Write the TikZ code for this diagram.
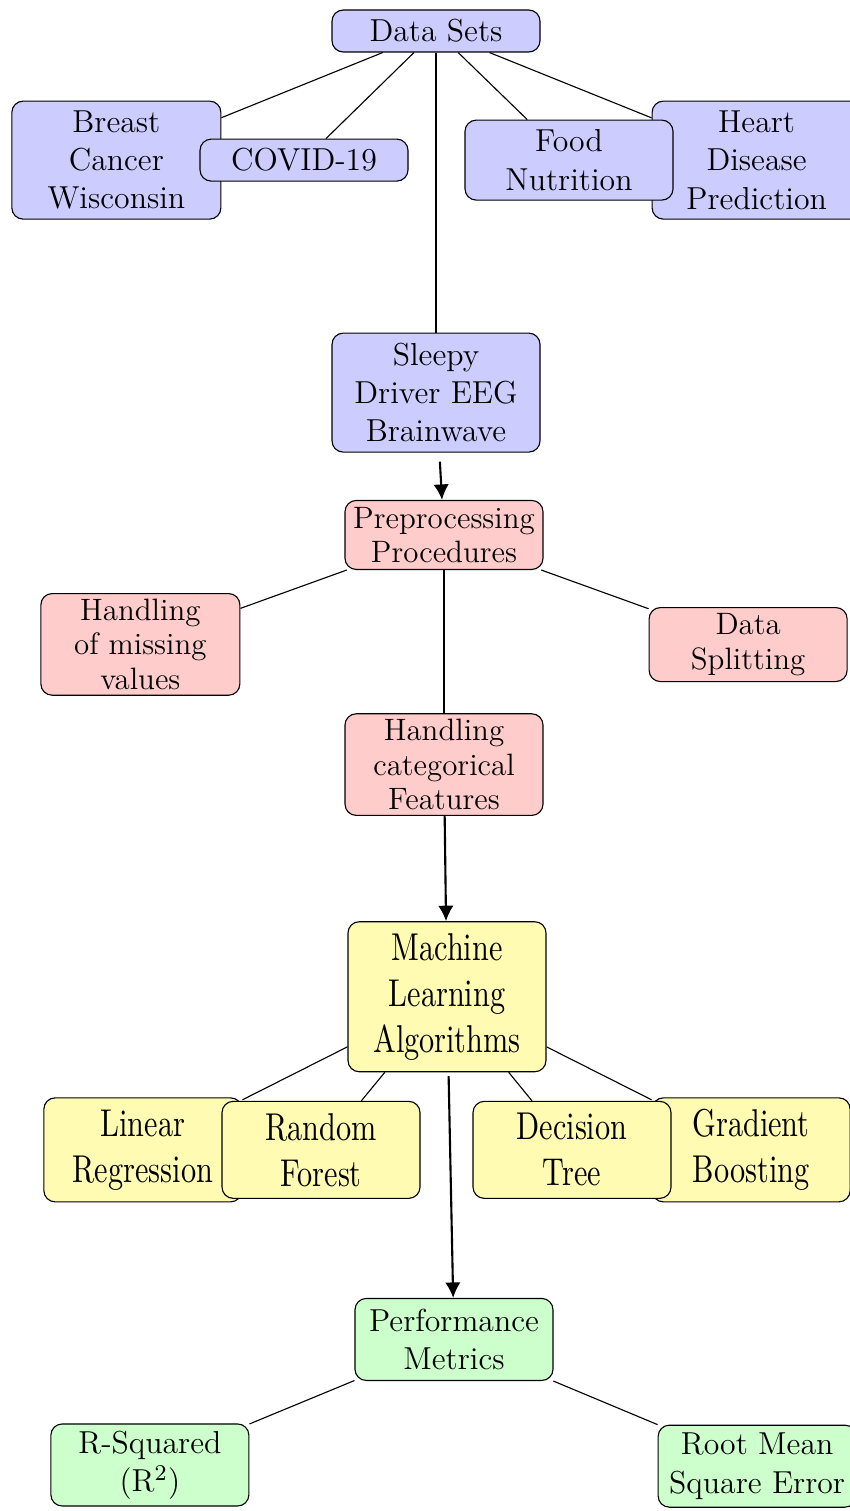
\documentclass[tikz,border=0pt]{standalone}
\usepackage{fontspec}
\usetikzlibrary{arrows.meta,positioning}
\newfontfamily\mlfont{lmroman10-regular.otf}[FakeStretch=0.78]

\begin{document}
\begin{tikzpicture}[
  box/.style={draw, rounded corners=4pt, align=center, inner sep=2pt,
              minimum width=2.475cm},
  ds/.style={box, fill=blue!20, minimum width=2.6cm,
             font=\fontsize{11.3}{13.6}\selectfont},
  pp/.style={box, fill=red!20, font=\fontsize{11}{12.2}\selectfont},
  ml/.style={box, fill=yellow!30, font=\mlfont\fontsize{13.8}{16.4}\selectfont},
  pm/.style={box, fill=green!20, font=\fontsize{11.3}{13.6}\selectfont},
  ln/.style={thin},
  ar/.style={-{Latex[length=5.5pt,width=5.5pt]}, line width=0.75pt}
]
  \useasboundingbox (0,0) rectangle (10.6125,-18.8875);

  % data sets
  \node[ds, minimum height=0.525cm] (data) at (5.45,-0.3875) {Data Sets};
  \node[ds, minimum width=2.6125cm, minimum height=1.475cm,
        below left=0.6cm and 1.375cm of data] (breast)
    {Breast\\Cancer\\Wisconsin};
  \node[ds, minimum height=0.525cm, right=-0.275cm of breast] (covid) {COVID-19};
  \node[ds, minimum width=2.6125cm, minimum height=1.475cm,
        below right=0.6cm and 1.3875cm of data] (heart)
    {Heart\\Disease\\Prediction};
  \node[ds, minimum height=1cm, left=-0.275cm of heart] (food) {Food\\Nutrition};
  \node[ds, minimum height=1.4875cm, below=3.5cm of data] (sleepy)
    {Sleepy\\Driver EEG\\Brainwave};

  % preprocessing
  \node[pp, minimum height=0.8625cm, below=0.59cm of sleepy, xshift=0.1cm] (pre)
    {Preprocessing\\Procedures};
  \node[pp, minimum width=2.4875cm, minimum height=1.2625cm,
        below left=0.2875cm and 1.3cm of pre] (miss)
    {Handling\\of missing\\values};
  \node[pp, minimum height=0.925cm, below right=0.4625cm and 1.3125cm of pre] (split)
    {Data\\Splitting};
  \node[pp, minimum height=1.2625cm, below=1.79cm of pre] (cat)
    {Handling\\categorical\\Features};

  % algorithms
  \node[ml, minimum height=1.875cm, below=1.315cm of cat, xshift=0.0375cm] (algo)
    {Machine\\Learning\\Algorithms};
  \node[ml, minimum height=1.3cm, below left=0.3125cm and 1.3125cm of algo] (linear)
    {Linear\\Regression};
  \node[ml, minimum height=1.2125cm, right=-0.2625cm of linear] (forest)
    {Random\\Forest};
  \node[ml, minimum height=1.3cm, below right=0.3125cm and 1.3125cm of algo] (boost)
    {Gradient\\Boosting};
  \node[ml, minimum height=1.2125cm, left=-0.25cm of boost] (tree)
    {Decision\\Tree};

  % metrics
  \node[pm, minimum height=1.025cm, below=2.82cm of algo, xshift=0.0875cm] (perf)
    {Performance\\Metrics};
  \node[pm, minimum height=1.025cm, below left=0.53cm and 1.3125cm of perf] (rsq)
    {R-Squared\\(R$^2$)};
  \node[pm, minimum height=1.025cm, below right=0.545cm and 1.3cm of perf] (rmse)
    {Root Mean\\Square Error};

  \draw[ln] (data) -- (breast);
  \draw[ln] (data) -- (covid);
  \draw[ln] (data) -- (sleepy);
  \draw[ln] (data) -- (food);
  \draw[ln] (data) -- (heart);
  \draw[ar, shorten <=3.2pt] (sleepy) -- (pre);

  \draw[ln] (pre) -- (miss);
  \draw[ln] (pre) -- (split);
  \draw[ln] (pre) -- (cat);
  \draw[ar] (cat) -- (algo);

  \draw[ln] (algo) -- (linear);
  \draw[ln] (algo) -- (forest);
  \draw[ln] (algo) -- (tree);
  \draw[ln] (algo) -- (boost);
  \draw[ar, shorten <=1.4pt] (algo) -- (perf);

  \draw[ln] (perf) -- (rsq);
  \draw[ln] (perf) -- (rmse);

\end{tikzpicture}
\end{document}
